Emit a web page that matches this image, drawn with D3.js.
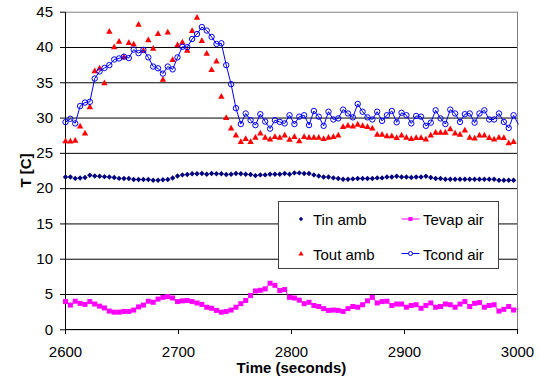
<!DOCTYPE html>
<html>
<head>
<meta charset="utf-8">
<script src="https://cdn.jsdelivr.net/npm/d3@7"></script>
<style>
  body { margin: 0; background: #fff; }
  svg text { font-family: "Liberation Sans", Arial, sans-serif; fill: #000; }
</style>
</head>
<body>
<svg id="chart" width="540" height="379"></svg>
<script>
// logged samples start at 2600 s, one every ~4.31 s
const startTime = 2600;
const sampleStep = 4.31;

const xTicks = [2600, 2700, 2800, 2900, 3000];
const yTicks = [0, 5, 10, 15, 20, 25, 30, 35, 40, 45];

const tinAmb = [
  21.66, 21.66, 21.45, 21.5, 21.57, 21.9, 21.8, 21.76, 21.7, 21.66,
  21.57, 21.45, 21.43, 21.43, 21.3, 21.3, 21.3, 21.29, 21.2, 21.2,
  21.25, 21.3, 21.5, 21.8, 21.95, 22.0, 22.1, 22.1, 22.14, 22.04,
  22.14, 22.1, 22.1, 22.0, 22.04, 22.14, 22.1, 22.04, 22.0, 21.85,
  21.95, 21.95, 22.04, 22.04, 22.04, 22.14, 22.04, 22.23, 22.23, 22.14,
  22.14, 21.95, 21.8, 21.66, 21.66, 21.52, 21.43, 21.33, 21.33, 21.38,
  21.43, 21.43, 21.43, 21.43, 21.52, 21.52, 21.66, 21.66, 21.76, 21.66,
  21.66, 21.57, 21.66, 21.66, 21.76, 21.57, 21.43, 21.43, 21.33, 21.33,
  21.33, 21.33, 21.33, 21.33, 21.33, 21.33, 21.33, 21.33, 21.33, 21.2,
  21.2, 21.2, 21.2
];

const tevapAir = [
  4.0, 3.5, 4.05, 3.75, 3.6, 4.0, 3.65, 3.35, 3.1, 2.65,
  2.5, 2.5, 2.6, 2.6, 2.8, 3.25, 3.5, 4.05, 3.9, 4.35,
  4.6, 4.7, 4.5, 4.0, 4.1, 4.15, 4.0, 3.8, 3.6, 3.2,
  3.05, 2.75, 2.5, 2.6, 2.8, 3.2, 3.7, 4.15, 4.85, 5.5,
  5.6, 5.8, 6.6, 6.3, 5.55, 5.7, 4.6, 4.5, 4.2, 3.7,
  3.9, 3.45, 3.3, 3.0, 2.75, 2.8, 2.75, 2.6, 3.0, 3.3,
  3.2, 3.55, 4.1, 4.6, 3.8, 4.0, 4.05, 3.45, 3.65, 3.65,
  3.2, 3.45, 3.55, 3.05, 3.45, 3.8, 3.2, 3.3, 3.65, 3.55,
  3.2, 3.65, 4.0, 3.3, 3.75, 3.85, 3.2, 3.45, 3.55, 2.65,
  2.9, 3.3, 2.8, 3.0
];

const toutAmb = [
  26.8, 26.75, 26.85, 28.9, 27.9, 31.6, 36.7, 37.1, 35.0, 42.3,
  40.1, 40.9, 38.7, 40.7, 40.5, 43.3, 39.6, 41.1, 39.9, 42.0,
  35.5, 42.2, 38.3, 40.4, 40.8, 39.6, 42.4, 44.3, 41.0, 39.2,
  36.9, 38.1, 33.1, 30.1, 28.6, 27.6, 26.7, 27.1, 26.7, 27.3,
  27.9, 27.3, 27.05, 27.4, 27.3, 27.6, 27.0, 27.4, 26.8, 27.4,
  27.3, 27.3, 27.3, 27.1, 27.3, 27.4, 27.6, 28.8, 29.0, 28.9,
  29.15, 28.95, 28.8, 28.6, 27.7, 27.7, 27.5, 27.5, 27.25, 27.6,
  27.3, 27.1, 27.25, 27.25, 27.05, 27.6, 28.0, 28.0, 28.0, 28.5,
  27.9, 27.7, 28.3, 27.3, 27.2, 27.6, 27.6, 27.25, 27.05, 27.3,
  27.25, 26.5, 26.7
];

const tcondAir = [
  29.43, 29.9, 29.24, 31.7, 32.2, 32.3, 35.6, 36.6, 37.1, 37.5,
  38.3, 38.45, 38.7, 38.5, 39.7, 39.2, 39.65, 38.6, 37.3, 37.05,
  36.3, 37.3, 36.9, 38.6, 40.1, 40.05, 41.2, 41.9, 42.9, 42.4,
  41.5, 40.5, 40.6, 37.5, 34.8, 31.4, 29.15, 30.65, 29.7, 29.0,
  30.55, 29.5, 28.5, 29.7, 29.45, 29.24, 30.4, 29.15, 30.2, 30.4,
  29.0, 31.0, 30.2, 28.9, 30.9, 29.8, 29.95, 31.2, 30.65, 30.1,
  32.0, 30.9, 30.1, 29.8, 30.9, 29.6, 30.4, 31.0, 29.4, 30.75,
  30.4, 29.24, 30.3, 30.2, 28.9, 29.35, 31.1, 29.95, 29.15, 31.2,
  30.65, 29.45, 30.55, 30.65, 29.35, 30.65, 31.1, 29.8, 29.8, 30.65,
  29.45, 28.6, 30.4, 29.1
];

const seriesNames = ['Tin amb', 'Tevap air', 'Tout amb', 'Tcond air'];

const svg = d3.select('#chart');
const x = d3.scaleLinear().domain([2600, 3000]).range([65, 517]);
const y = d3.scaleLinear().domain([0, 45]).range([329.3, 11.7]);

const px = i => x(startTime + i * sampleStep) + 0.5;
const py = v => y(v) + 0.5;
const inRange = (v, i) => startTime + i * sampleStep <= 3000;

svg.append('clipPath').attr('id', 'plotclip')
  .append('rect').attr('x', 60).attr('y', 0).attr('width', 460).attr('height', 335);

// gridlines (45 is the plot border)
svg.append('g')
  .selectAll('line')
  .data(yTicks.filter(d => d > 0 && d < 45))
  .enter().append('line')
  .attr('x1', x(2600) + 0.5).attr('x2', x(3000) + 0.5)
  .attr('y1', d => py(d)).attr('y2', d => py(d))
  .attr('stroke', '#000').attr('stroke-width', 1);

svg.append('rect')
  .attr('x', x(2600) + 0.5).attr('y', py(45))
  .attr('width', x(3000) - x(2600)).attr('height', y(0) - y(45))
  .attr('fill', 'none').attr('stroke', '#808080');

// axes
const yAxis = svg.append('g')
  .attr('transform', 'translate(' + x(2600) + ',0)')
  .call(d3.axisLeft(y).tickValues(yTicks).tickSize(5).tickSizeOuter(0).tickPadding(7));
yAxis.select('.domain').attr('stroke', '#000');
yAxis.selectAll('text').style('font-size', '15px');

const xAxis = svg.append('g')
  .attr('transform', 'translate(0,' + Math.floor(y(0)) + ')')
  .call(d3.axisBottom(x).tickValues(xTicks).tickFormat(d3.format('d')).tickSize(5).tickSizeOuter(0).tickPadding(12.5));
xAxis.select('.domain').attr('stroke', '#000');
xAxis.selectAll('text').style('font-size', '15px');

const plot = svg.append('g').attr('clip-path', 'url(#plotclip)');

const diamond = r => `M0,${-r}L${r},0L0,${r}L${-r},0Z`;
const triangle = r => `M0,${-r}L${r},${r * 0.8}L${-r},${r * 0.8}Z`;
const lineGen = d3.line().x((d, i) => px(i)).y(d => py(d));

// Tin amb: markers only
plot.append('g').selectAll('path')
  .data(tinAmb.filter(inRange))
  .enter().append('path')
  .attr('d', diamond(2.7))
  .attr('transform', (d, i) => `translate(${px(i)},${py(d)})`)
  .attr('fill', '#000080');

// Tevap air: line + squares
plot.append('path')
  .datum(tevapAir)
  .attr('d', lineGen)
  .attr('fill', 'none').attr('stroke', '#ff00ff').attr('stroke-width', 1);
plot.append('g').selectAll('rect')
  .data(tevapAir.filter(inRange))
  .enter().append('rect')
  .attr('x', (d, i) => px(i) - 2.5).attr('y', d => py(d) - 2.5)
  .attr('width', 5).attr('height', 5)
  .attr('fill', '#ff00ff');

// Tout amb: markers only
plot.append('g').selectAll('path')
  .data(toutAmb.filter(inRange))
  .enter().append('path')
  .attr('d', triangle(3.2))
  .attr('transform', (d, i) => `translate(${px(i)},${py(d)})`)
  .attr('fill', '#ff0000');

// Tcond air: line + open circles
plot.append('path')
  .datum(tcondAir)
  .attr('d', lineGen)
  .attr('fill', 'none').attr('stroke', '#0000ff').attr('stroke-width', 1);
plot.append('g').selectAll('circle')
  .data(tcondAir.filter(inRange))
  .enter().append('circle')
  .attr('cx', (d, i) => px(i)).attr('cy', d => py(d))
  .attr('r', 2.7)
  .attr('fill', 'none').attr('stroke', '#0000ff').attr('stroke-width', 1);

// axis titles
svg.append('text')
  .text('Time (seconds)')
  .attr('x', (x(2600) + x(3000)) / 2 + 0.5).attr('y', 373)
  .attr('text-anchor', 'middle')
  .style('font-size', '15px').style('font-weight', 'bold');

svg.append('text')
  .text('T [C]')
  .attr('transform', 'translate(31,' + (y(0) + y(45)) / 2 + ') rotate(-90)')
  .attr('text-anchor', 'middle')
  .style('font-size', '15px').style('font-weight', 'bold');

// legend
const legend = svg.append('g');
legend.append('rect')
  .attr('x', 278.5).attr('y', 201.5).attr('width', 220).attr('height', 67)
  .attr('fill', '#fff').attr('stroke', '#404040');

const legendRows = [
  {name: seriesNames[0], lx: 301, ly: 219, tx: 313, kind: 'diamond'},
  {name: seriesNames[2], lx: 301, ly: 253.5, tx: 313, kind: 'triangle'},
  {name: seriesNames[1], lx: 410.5, ly: 219, tx: 423, kind: 'square'},
  {name: seriesNames[3], lx: 410.5, ly: 253.5, tx: 423, kind: 'circle'}
];

legendRows.forEach(r => {
  const g = legend.append('g').attr('transform', `translate(${r.lx},${r.ly})`);
  if (r.kind === 'diamond') {
    g.append('path').attr('d', diamond(2.2)).attr('fill', '#000080');
  } else if (r.kind === 'triangle') {
    g.append('path').attr('d', triangle(2.6)).attr('fill', '#ff0000');
  } else if (r.kind === 'square') {
    g.append('line').attr('x1', -9).attr('x2', 9).attr('stroke', '#ff00ff');
    g.append('rect').attr('x', -2).attr('y', -2).attr('width', 4).attr('height', 4).attr('fill', '#ff00ff');
  } else {
    g.append('line').attr('x1', -9).attr('x2', 9).attr('stroke', '#0000ff');
    g.append('circle').attr('r', 2).attr('fill', '#fff').attr('stroke', '#0000ff');
  }
  legend.append('text')
    .text(r.name)
    .attr('x', r.tx).attr('y', r.ly + 6)
    .style('font-size', '15px');
});
</script>
</body>
</html>
